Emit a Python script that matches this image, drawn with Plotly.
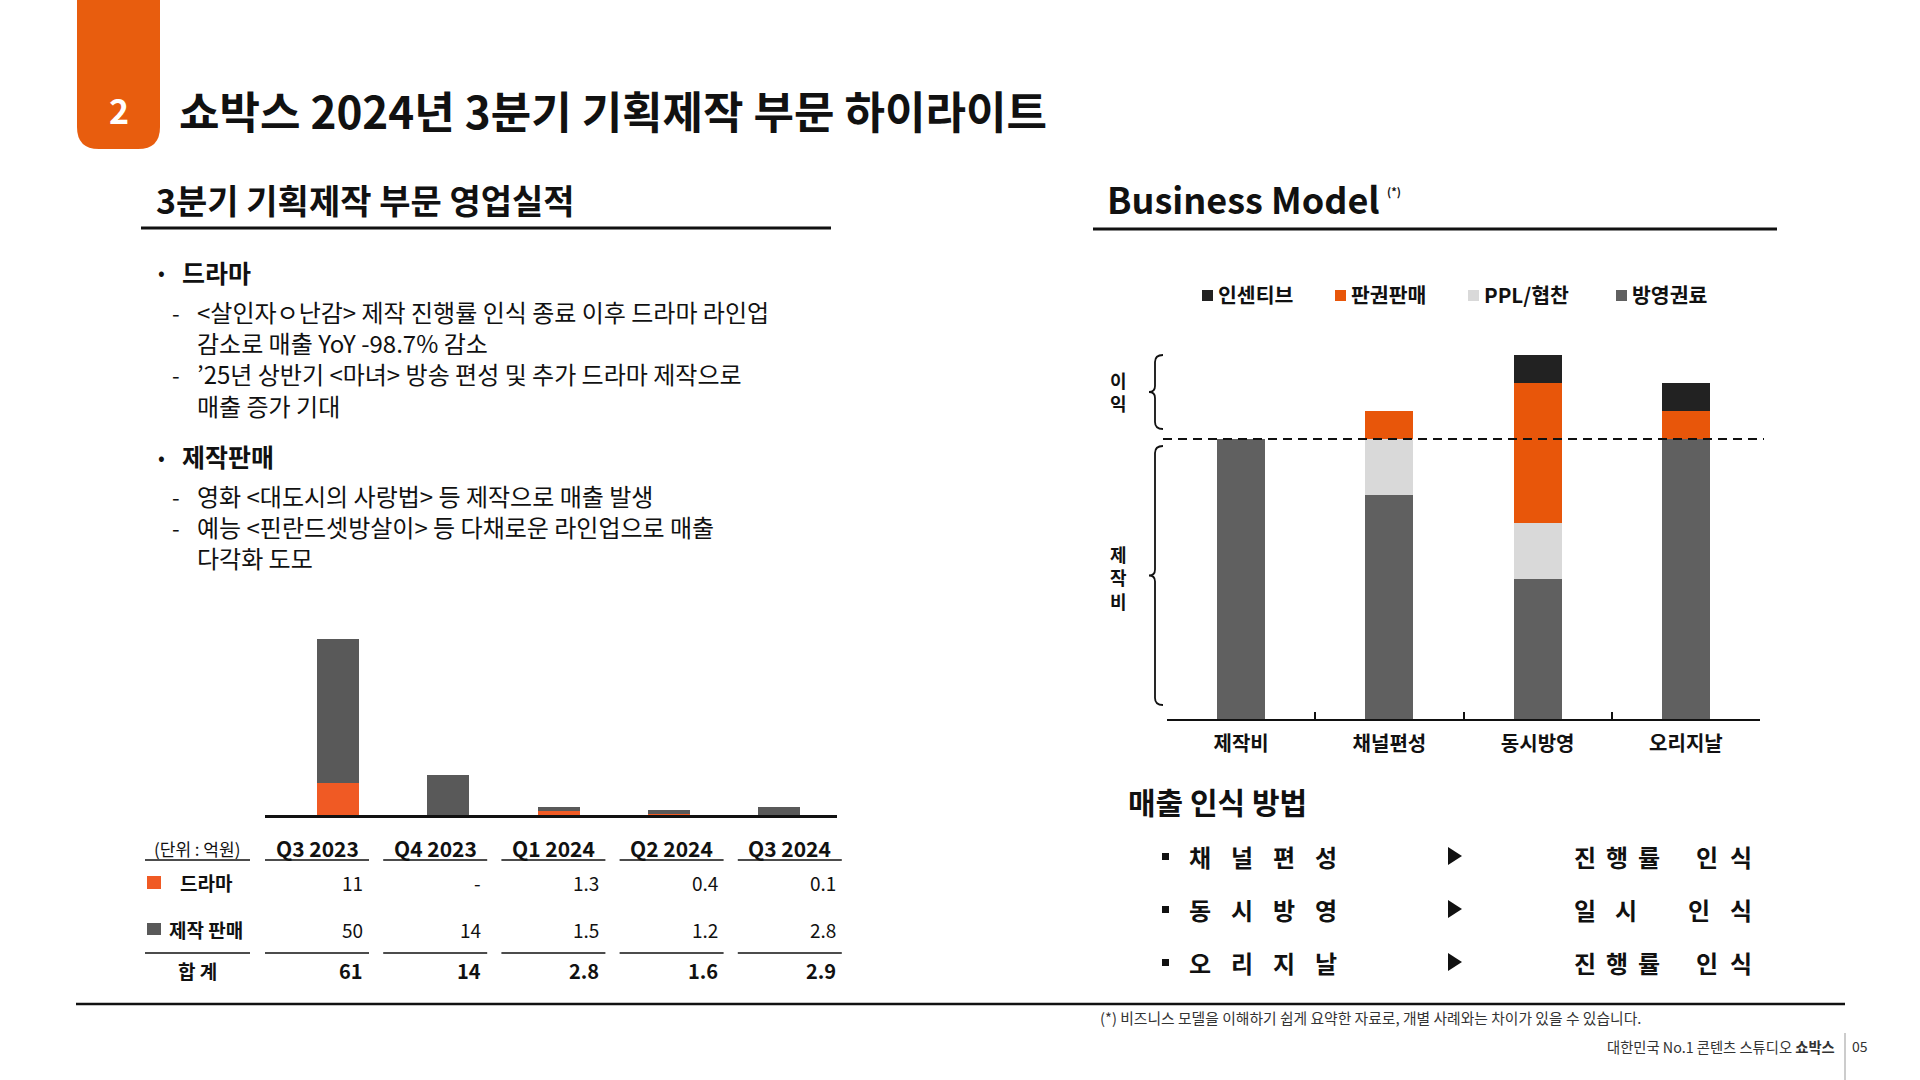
import plotly.graph_objects as go

# ---------------- data ----------------
quarters = ["Q3 2023", "Q4 2023", "Q1 2024", "Q2 2024", "Q3 2024"]
drama = [11, 0, 1.3, 0.4, 0.1]              # 0 shown as "-" in table
production_sales = [50, 14, 1.5, 1.2, 2.8]
totals = [61, 14, 2.8, 1.6, 2.9]

models = ["제작비", "채널편성", "동시방영", "오리지날"]
broadcast_fee = [100, 80, 50, 100]   # 방영권료
ppl = [0, 20, 20, 0]                 # PPL/협찬
license_sales = [0, 10, 50, 10]      # 판권판매
incentive = [0, 0, 10, 10]           # 인센티브
model_legend = ["인센티브", "판권판매", "PPL/협찬", "방영권료"]

recognition = [("진행률", "인식"), ("일시", "인식"), ("진행률", "인식")]

drama_bullets = [
    "&lt;살인자ㅇ난감&gt; 제작 진행률 인식 종료 이후 드라마 라인업",
    "감소로 매출 YoY -98.7% 감소",
    "’25년 상반기 &lt;마녀&gt; 방송 편성 및 추가 드라마 제작으로",
    "매출 증가 기대",
]
sales_bullets = [
    "영화 &lt;대도시의 사랑법&gt; 등 제작으로 매출 발생",
    "예능 &lt;핀란드셋방살이&gt; 등 다채로운 라인업으로 매출",
    "다각화 도모",
]

# ---------------- style ----------------
W, H = 1920, 1080
FONT = "Noto Sans CJK KR, Noto Sans, sans-serif"
TAB_ORANGE = "#E85D0E"
ORANGE_L = "#F05A24"
GRAY_L = "#595959"
ORANGE_R = "#E8560A"
GRAY_R = "#606060"
LIGHT_R = "#D9D9D9"
BLACK_R = "#222222"
INK = "#111111"


def X(px):
    return px / W


def Y(py):
    return 1 - py / H


fig = go.Figure()

# left stacked bars
fig.add_trace(go.Bar(x=quarters, y=drama, marker=dict(color=ORANGE_L, line=dict(width=0)),
                     width=0.38, xaxis="x", yaxis="y", name="드라마"))
fig.add_trace(go.Bar(x=quarters, y=production_sales, marker=dict(color=GRAY_L, line=dict(width=0)),
                     width=0.38, xaxis="x", yaxis="y", name="제작 판매"))

# right stacked bars (bottom -> top)
for vals, col, nm in [(broadcast_fee, GRAY_R, "방영권료"), (ppl, LIGHT_R, "PPL/협찬"),
                      (license_sales, ORANGE_R, "판권판매"), (incentive, BLACK_R, "인센티브")]:
    fig.add_trace(go.Bar(x=models, y=vals, marker=dict(color=col, line=dict(width=0)),
                         width=0.324, xaxis="x2", yaxis="y2", name=nm))

shapes = []
annotations = []


def text(x, y, s, size, bold=False, color=INK, xanchor="left", align="left"):
    annotations.append(dict(
        x=X(x), y=Y(y), xref="paper", yref="paper", text=s, showarrow=False,
        xanchor=xanchor, yanchor="middle", align=align,
        font=dict(family=FONT, size=size, color=color, weight=700 if bold else 400)))


def hline(x0, x1, y, width=1.5, color=INK, dash="solid"):
    shapes.append(dict(type="line", xref="paper", yref="paper", x0=X(x0), x1=X(x1),
                       y0=Y(y), y1=Y(y), line=dict(color=color, width=width, dash=dash)))


def rect(x0, y0, x1, y1, color):
    shapes.append(dict(type="rect", xref="paper", yref="paper", x0=X(x0), x1=X(x1),
                       y0=Y(y1), y1=Y(y0), fillcolor=color, line=dict(width=0)))


def path(cmds, color=None, fill=None, width=1.8):
    parts = []
    for c in cmds:
        op = c[0]
        pts = c[1:]
        parts.append(op + " " + " ".join(f"{X(a):.6f},{Y(b):.6f}" for a, b in pts))
    d = " ".join(parts)
    shapes.append(dict(type="path", xref="paper", yref="paper", path=d,
                       fillcolor=fill if fill else "rgba(0,0,0,0)",
                       line=dict(color=color if color else "rgba(0,0,0,0)", width=width if color else 0)))


# ---------------- header ----------------
r = 22
path([("M", (77, 0)), ("L", (160, 0)), ("L", (160, 149 - r)), ("Q", (160, 149), (160 - r, 149)),
      ("L", (77 + r, 149)), ("Q", (77, 149), (77, 149 - r)), ("Z",)], fill=TAB_ORANGE)
text(119, 109, "2", 34, bold=True, color="#FFFFFF", xanchor="center")
text(177, 110, "쇼박스 2024년 3분기 기획제작 부문 하이라이트", 44, bold=True)

text(154, 200, "3분기 기획제작 부문 영업실적", 34, bold=True)
hline(141, 831, 228, width=3)
text(1105, 198, "Business Model", 36, bold=True)
text(1385, 191, "(*)", 11, bold=True)
hline(1093, 1777, 229, width=3)

# ---------------- left bullets ----------------
LS = 24 * 1.3   # plotly line spacing for 24px text
text(156, 272, "•", 20)
text(180, 272, "드라마", 25, bold=True)
c1 = 358.5
text(195, c1, "<br>".join(drama_bullets), 24)
for k in (0, 2):
    text(170, c1 + (k - 1.5) * LS, "-", 22)

text(156, 456, "•", 20)
text(180, 456, "제작판매", 25, bold=True)
c2 = 526.7
text(195, c2, "<br>".join(sales_bullets), 24)
for k in (0, 1):
    text(170, c2 + (k - 1) * LS, "-", 22)

# ---------------- left table ----------------
text(197, 848, "(단위 : 억원)", 17, xanchor="center")
hline(145, 250, 860)
hline(145, 250, 953)
for i, q in enumerate(quarters):
    s0 = 265 + 118.2 * i
    s1 = s0 + 104
    text((s0 + s1) / 2, 848, q, 21, bold=True, xanchor="center")
    hline(s0, s1, 860)
    hline(s0, s1, 953)
    dv = drama[i]
    text(s1 - 4, 883, "-" if dv == 0 else f"{dv:g}", 19, xanchor="right")
    text(s1 - 4, 929, f"{production_sales[i]:g}", 19, xanchor="right")
    text(s1 - 4, 970, f"{totals[i]:g}", 20, bold=True, xanchor="right")
rect(147, 876, 161, 889, ORANGE_L)
text(206, 883, "드라마", 19, bold=True, xanchor="center")
rect(147, 923, 161, 935, GRAY_L)
text(206, 929, "제작 판매", 19, bold=True, xanchor="center")
text(197, 970, "합 계", 19, bold=True, xanchor="center")

# ---------------- right legend ----------------
leg_x = [1216, 1349, 1482, 1630]
leg_c = [BLACK_R, ORANGE_R, LIGHT_R, GRAY_R]
for lbl, lx, lc in zip(model_legend, leg_x, leg_c):
    rect(lx - 14, 290, lx - 3, 301, lc)
    text(lx, 294, lbl, 20.5, bold=True)

# dashed 제작비 level
shapes.append(dict(type="line", xref="paper", yref="y2", x0=X(1163), x1=X(1764),
                   y0=broadcast_fee[0], y1=broadcast_fee[0],
                   line=dict(color=INK, width=2, dash="9px,6px")))


def brace(top, bot, xr=1163, xv=1155, xt=1149):
    mid = (top + bot) / 2
    path([("M", (xr, top)), ("Q", (xv, top), (xv, top + 7)), ("L", (xv, mid - 6)),
          ("Q", (xv, mid), (xt, mid)), ("Q", (xv, mid), (xv, mid + 6)),
          ("L", (xv, bot - 7)), ("Q", (xv, bot), (xr, bot))], color=INK, width=1.8)


brace(355, 429)
brace(446, 705)
text(1118, 392, "이<br>익", 18, bold=True, xanchor="center", align="center")
text(1118, 577, "제<br>작<br>비", 18, bold=True, xanchor="center", align="center")

# ---------------- 매출 인식 방법 ----------------
text(1126, 801, "매출 인식 방법", 30, bold=True)
row_y = [856, 909, 962]
for k, m in enumerate(models[1:]):
    y = row_y[k]
    rect(1162, y - 3, 1169, y + 4, INK)
    for ch, cx in zip(m, [1200, 1242, 1284, 1326]):
        text(cx, y, ch, 24, bold=True, xanchor="center")
    path([("M", (1448, y - 9)), ("L", (1462, y)), ("L", (1448, y + 9)), ("Z",)], fill=INK)
    w1, w2 = recognition[k]
    p1 = 32 if len(w1) == 3 else 41
    p2 = 34 if len(w1) == 3 else 42
    for j, ch in enumerate(w1):
        text(1585 + p1 * j, y, ch, 24, bold=True, xanchor="center")
    for j, ch in enumerate(w2):
        text(1741 - p2 * (len(w2) - 1 - j), y, ch, 24, bold=True, xanchor="center")

# ---------------- footer ----------------
hline(76, 1845, 1004, width=2.5)
text(1098, 1017, "(*) 비즈니스 모델을 이해하기 쉽게 요약한 자료로, 개별 사례와는 차이가 있을 수 있습니다.",
     14.8, color="#333333")
text(1837, 1046, "대한민국 No.1 콘텐츠 스튜디오 <b>쇼박스</b>", 14.3, color="#333333", xanchor="right")
shapes.append(dict(type="line", xref="paper", yref="paper", x0=X(1845), x1=X(1845),
                   y0=Y(1033), y1=Y(1080), line=dict(color="#999999", width=1)))
text(1850, 1046, "05", 14, color="#333333")

fig.update_layout(
    width=W, height=H, margin=dict(l=0, r=0, t=0, b=0),
    paper_bgcolor="#FFFFFF", plot_bgcolor="rgba(0,0,0,0)",
    barmode="stack", showlegend=False, bargap=0,
    shapes=shapes, annotations=annotations,
    xaxis=dict(domain=[X(265), X(837)], range=[-0.662, 4.524], type="category",
               showline=True, linecolor=INK, linewidth=2.5, showgrid=False, zeroline=False,
               showticklabels=False, ticks="", anchor="y", fixedrange=True),
    yaxis=dict(domain=[Y(815), Y(615)], range=[0, 69.3], visible=False, anchor="x", fixedrange=True),
    xaxis2=dict(domain=[X(1167), X(1760)], range=[-0.5, 3.5], type="category",
                showline=True, linecolor=INK, linewidth=2, showgrid=False, zeroline=False,
                ticks="inside", tickson="boundaries", ticklen=7, tickwidth=2, tickcolor=INK,
                tickfont=dict(family=FONT, size=20, color=INK, weight=700),
                ticklabelstandoff=6, anchor="y2", fixedrange=True),
    yaxis2=dict(domain=[Y(719), Y(327)], range=[0, 140], visible=False, anchor="x2", fixedrange=True),
)

fig.write_html("out.html", config={"displayModeBar": False},
               post_script="document.body.style.margin='0';document.body.style.padding='0';")
